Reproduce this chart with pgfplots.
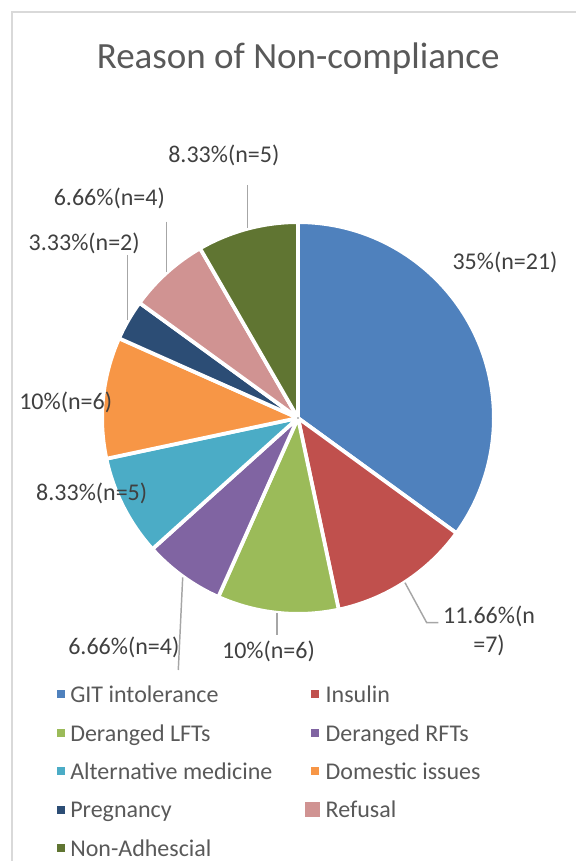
\documentclass[border=0pt]{standalone}
\usepackage{fontspec}
\setmainfont{Carlito}
\usepackage{pgfplots}
\usepackage{pgfplotstable}
\pgfplotsset{compat=1.18}

\definecolor{s0}{HTML}{4F81BD}
\definecolor{s1}{HTML}{C0504D}
\definecolor{s2}{HTML}{9BBB59}
\definecolor{s3}{HTML}{8064A2}
\definecolor{s4}{HTML}{4BACC6}
\definecolor{s5}{HTML}{F79646}
\definecolor{s6}{HTML}{2C4D75}
\definecolor{s7}{HTML}{D09392}
\definecolor{s8}{HTML}{607532}
\definecolor{titlegray}{HTML}{595959}
\definecolor{labelgray}{HTML}{404040}
\definecolor{leadergray}{HTML}{A6A6A6}
\definecolor{bordergray}{HTML}{D9D9D9}

% idx, count n (total 60), cumulative count before the slice
\pgfplotstableread{
idx n cum
0 21 0
1 7 21
2 6 28
3 4 34
4 5 38
5 6 43
6 2 49
7 4 51
8 5 55
}\piedata

\begin{document}
\begin{tikzpicture}
\useasboundingbox (0pt,0pt) rectangle (432pt,645.75pt);
\begin{scope}[x=0.75pt,y=0.75pt]
\draw[bordergray, line width=1.1pt] (12,0) -- (12,849) -- (576,849);
\node[anchor=base, inner sep=0pt, font=\fontsize{27.75}{30}\selectfont, text=titlegray] at (298.2,792.3) {Reason of Non-compliance};
\end{scope}

\begin{axis}[
  at={(223.5pt,332.25pt)}, anchor=center,
  width=291pt, height=291pt, scale only axis,
  xmin=-1, xmax=1, ymin=-1, ymax=1,
  hide axis, clip=false,
  legend columns=2,
  legend cell align=left,
  legend style={
    at={(axis description cs:-0.1211,-0.1888)}, anchor=north west,
    draw=none, fill=none, inner sep=0pt, outer sep=0pt,
    font=\fontsize{18}{18}\selectfont, text=titlegray,
    row sep=15.85pt,
    nodes={inner sep=0pt, text height=13pt, text depth=0pt},
    /tikz/every odd column/.append style={column sep=4.3pt},
    /tikz/every even column/.append style={column sep=24.75pt}
  },
]
\addplot[
  scatter, only marks, mark=*, mark size=0.1pt,
  mark options={draw=none, fill=none},
  point meta=\thisrow{n},
  visualization depends on={\thisrow{n} \as \slicen},
  visualization depends on={\thisrow{cum} \as \slicecum},
  visualization depends on={\thisrow{idx} \as \sliceidx},
  scatter/@pre marker code/.code={%
    \pgfmathsetmacro\sa{90-6*\slicecum}%
    \pgfmathsetmacro\sb{90-6*(\slicecum+\slicen)}%
    \pgfmathtruncatemacro\si{\sliceidx}%
    \filldraw[fill=s\si, draw=white, fill opacity=1, draw opacity=1, line width=2.8pt, line join=round]
      (0pt,0pt) -- (\sa:146.9pt) arc[start angle=\sa, end angle=\sb, radius=146.9pt] -- cycle;
  },
  scatter/@post marker code/.code={},
  forget plot
] table[x expr=0, y expr=0] \piedata;

\addlegendimage{legend image code/.code={\fill[s0] (0pt,-2.6pt) rectangle (5.25pt,2.6pt);}}
\addlegendentry{GIT intolerance}
\addlegendimage{legend image code/.code={\fill[s1] (0pt,-2.6pt) rectangle (5.25pt,2.6pt);}}
\addlegendentry{Insulin}
\addlegendimage{legend image code/.code={\fill[s2] (0pt,-2.6pt) rectangle (5.25pt,2.6pt);}}
\addlegendentry{Deranged LFTs}
\addlegendimage{legend image code/.code={\fill[s3] (0pt,-2.6pt) rectangle (5.25pt,2.6pt);}}
\addlegendentry{Deranged RFTs}
\addlegendimage{legend image code/.code={\fill[s4] (0pt,-2.6pt) rectangle (5.25pt,2.6pt);}}
\addlegendentry{Alternative medicine}
\addlegendimage{legend image code/.code={\fill[s5] (0pt,-2.6pt) rectangle (5.25pt,2.6pt);}}
\addlegendentry{Domestic issues}
\addlegendimage{legend image code/.code={\fill[s6] (0pt,-2.6pt) rectangle (5.25pt,2.6pt);}}
\addlegendentry{Pregnancy}
\addlegendimage{legend image code/.code={\fill[s7] (-4.5pt,-5.25pt) rectangle (6pt,5.25pt);}}
\addlegendentry{Refusal}
\addlegendimage{legend image code/.code={\fill[s8] (0pt,-2.6pt) rectangle (5.25pt,2.6pt);}}
\addlegendentry{Non-Adhescial}
\end{axis}

\begin{scope}[x=0.75pt,y=0.75pt]
% leader lines
\begin{scope}[leadergray, line width=1.1pt]
\draw (405,278.3) -- (426.7,238.3) -- (438.3,238.3);
\draw (277,247.7) -- (277,226);
\draw (182.7,283.7) -- (178.3,191);
\draw (127.7,606) -- (127.7,541);
\draw (166.7,639.3) -- (166.7,589.3);
\draw (247.3,676) -- (247.3,632.7);
\end{scope}
% data labels
\begin{scope}[every node/.style={anchor=base, inner sep=0pt, font=\fontsize{18}{18}\selectfont, text=labelgray}]
\node at (505,591.5) {35\%(n=21)};
\node at (489,237) {11.66\%(n};
\node at (489,208.3) {=7)};
\node at (268.5,202.7) {10\%(n=6)};
\node at (123.8,206) {6.66\%(n=4)};
\node at (91.7,360.3) {8.33\%(n=5)};
\node at (65.7,451) {10\%(n=6)};
\node at (84.2,610.3) {3.33\%(n=2)};
\node at (109.3,655) {6.66\%(n=4)};
\node at (223.8,698.7) {8.33\%(n=5)};
\end{scope}
\end{scope}
\end{tikzpicture}
\end{document}
